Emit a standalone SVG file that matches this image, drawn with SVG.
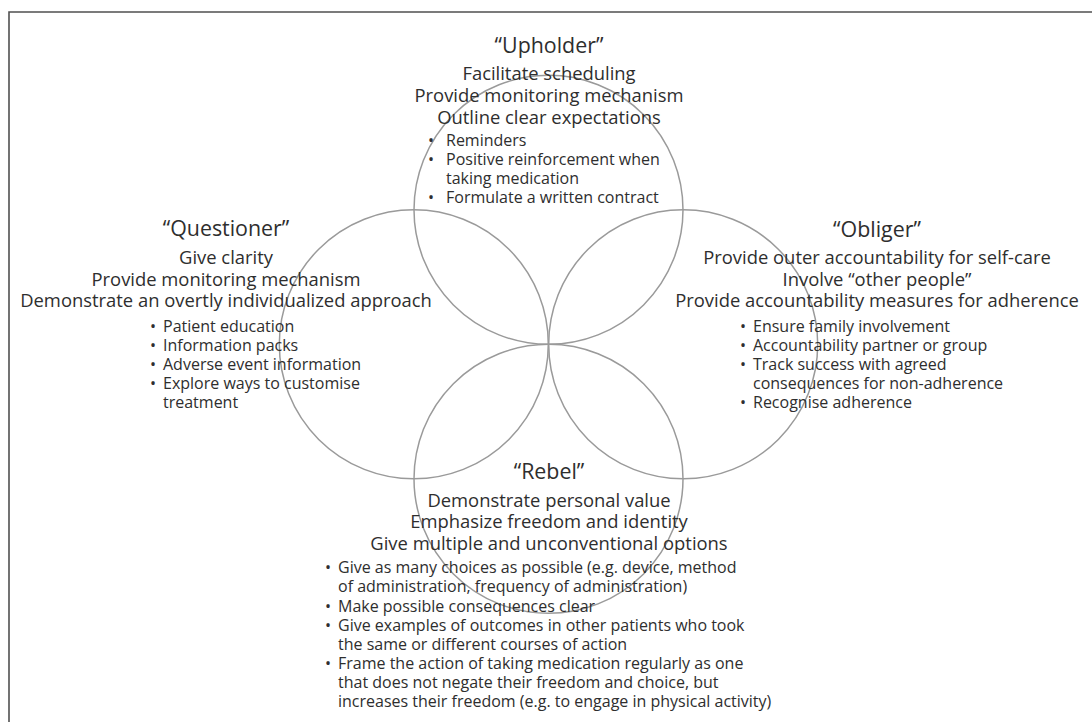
<svg xmlns="http://www.w3.org/2000/svg" width="1092" height="722" viewBox="0 0 1092 722">
<style>
text{font-family:"Open Sans","Noto Sans","DejaVu Sans",sans-serif;fill:#2e2e2e}
.t{font-size:21.4px;text-anchor:middle}
.h{font-size:18.4px;text-anchor:middle}
.b{font-size:16px}
.c{fill:none;stroke:#9a9a9a;stroke-width:1.5}
.f{fill:none;stroke:#505050;stroke-width:1.6}
</style>
<rect width="1092" height="722" fill="#fff"/>
<path class="f" d="M9 722V12H1092"/>
<g id="circles">
<circle class="c" cx="548.5" cy="209.8" r="134.5"/>
<circle class="c" cx="413.8" cy="344.3" r="134.5"/>
<circle class="c" cx="683.2" cy="344.3" r="134.5"/>
<circle class="c" cx="548.5" cy="478.8" r="134.5"/>
</g>
<g id="upholder">
<text class="t" x="549" y="53">“Upholder”</text>
<text class="h" x="549" y="80">Facilitate scheduling</text>
<text class="h" x="549" y="102">Provide monitoring mechanism</text>
<text class="h" x="549" y="124">Outline clear expectations</text>
<text class="b" x="428" y="146">•</text><text class="b" x="446" y="146">Reminders</text>
<text class="b" x="428" y="165">•</text><text class="b" x="446" y="165">Positive reinforcement when</text>
<text class="b" x="446" y="184">taking medication</text>
<text class="b" x="428" y="203">•</text><text class="b" x="446" y="203">Formulate a written contract</text>
</g>
<g id="questioner">
<text class="t" x="226" y="236">“Questioner”</text>
<text class="h" x="226" y="264">Give clarity</text>
<text class="h" x="226" y="286">Provide monitoring mechanism</text>
<text class="h" x="226" y="307">Demonstrate an overtly individualized approach</text>
<text class="b" x="150" y="332">•</text><text class="b" x="163" y="332">Patient education</text>
<text class="b" x="150" y="351">•</text><text class="b" x="163" y="351">Information packs</text>
<text class="b" x="150" y="370">•</text><text class="b" x="163" y="370">Adverse event information</text>
<text class="b" x="150" y="389">•</text><text class="b" x="163" y="389">Explore ways to customise</text>
<text class="b" x="163" y="408">treatment</text>
</g>
<g id="obliger">
<text class="t" x="877" y="237">“Obliger”</text>
<text class="h" x="877" y="264">Provide outer accountability for self-care</text>
<text class="h" x="877" y="286">Involve “other people”</text>
<text class="h" x="877" y="307">Provide accountability measures for adherence</text>
<text class="b" x="740" y="332">•</text><text class="b" x="753" y="332">Ensure family involvement</text>
<text class="b" x="740" y="351">•</text><text class="b" x="753" y="351">Accountability partner or group</text>
<text class="b" x="740" y="370">•</text><text class="b" x="753" y="370">Track success with agreed</text>
<text class="b" x="753" y="389">consequences for non-adherence</text>
<text class="b" x="740" y="408">•</text><text class="b" x="753" y="408">Recognise adherence</text>
</g>
<g id="rebel">
<text class="t" x="549" y="479">“Rebel”</text>
<text class="h" x="549" y="507">Demonstrate personal value</text>
<text class="h" x="549" y="528">Emphasize freedom and identity</text>
<text class="h" x="549" y="550">Give multiple and unconventional options</text>
<text class="b" x="325" y="573">•</text><text class="b" x="338" y="573">Give as many choices as possible (e.g. device, method</text>
<text class="b" x="338" y="592">of administration, frequency of administration)</text>
<text class="b" x="325" y="612">•</text><text class="b" x="338" y="612">Make possible consequences clear</text>
<text class="b" x="325" y="631">•</text><text class="b" x="338" y="631">Give examples of outcomes in other patients who took</text>
<text class="b" x="338" y="650">the same or different courses of action</text>
<text class="b" x="325" y="669">•</text><text class="b" x="338" y="669">Frame the action of taking medication regularly as one</text>
<text class="b" x="338" y="688">that does not negate their freedom and choice, but</text>
<text class="b" x="338" y="707">increases their freedom (e.g. to engage in physical activity)</text>
</g>
</svg>
